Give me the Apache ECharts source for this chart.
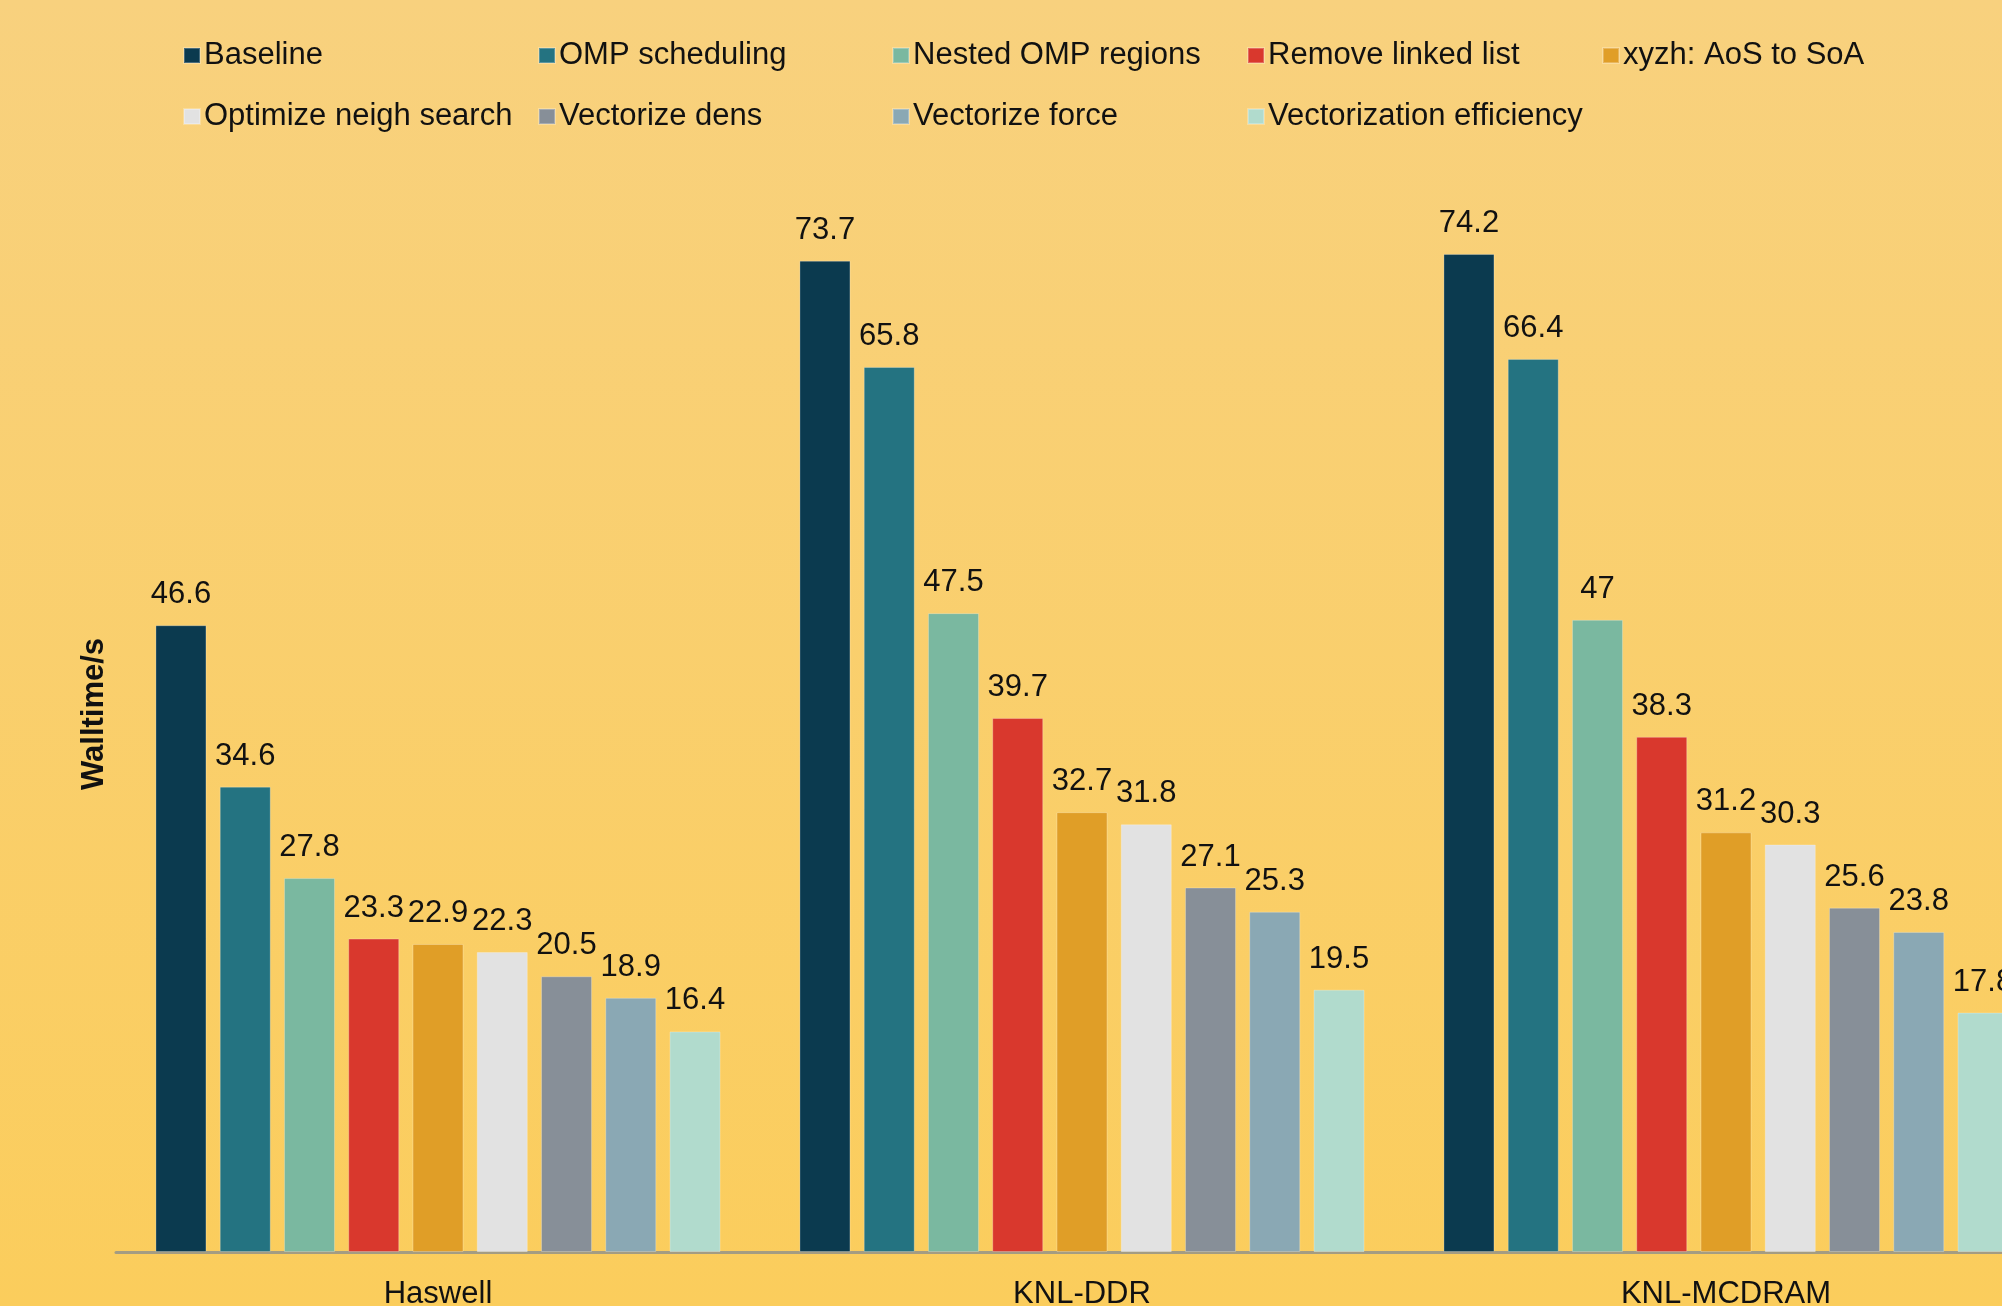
<!DOCTYPE html>
<html>
<head>
<meta charset="utf-8">
<title>Walltime</title>
<script src="https://cdn.jsdelivr.net/npm/echarts@6/dist/echarts.min.js"></script>
<style>
  html, body { margin: 0; padding: 0; }
  #chart { width: 2002px; height: 1306px; }
</style>
</head>
<body>
<div id="chart"></div>
<script>
// categories and series
const categories = ['Haswell', 'KNL-DDR', 'KNL-MCDRAM']
const seriesNames = [
  'Baseline', 'OMP scheduling', 'Nested OMP regions', 'Remove linked list', 'xyzh: AoS to SoA',
  'Optimize neigh search', 'Vectorize dens', 'Vectorize force', 'Vectorization efficiency'
]
const baseline = [46.6, 73.7, 74.2]
const ompScheduling = [34.6, 65.8, 66.4]
const nestedOmp = [27.8, 47.5, 47]
const removeLinkedList = [23.3, 39.7, 38.3]
const aosToSoa = [22.9, 32.7, 31.2]
const optimizeNeigh = [22.3, 31.8, 30.3]
const vectorizeDens = [20.5, 27.1, 25.6]
const vectorizeForce = [18.9, 25.3, 23.8]
const vecEfficiency = [16.4, 19.5, 17.8]

const allData = [baseline, ompScheduling, nestedOmp, removeLinkedList, aosToSoa,
  optimizeNeigh, vectorizeDens, vectorizeForce, vecEfficiency]
const colors = ['#0b3a4f', '#247381', '#7ab8a0', '#d9382d', '#e09e27',
  '#e2e2e2', '#878f98', '#8aa8b4', '#b1dbcd']

const chart = echarts.init(document.getElementById('chart'))

// one legend per item so the columns line up like the original
const legendCols = [183, 538, 892, 1247, 1602]
const legends = seriesNames.map((name, i) => ({
  data: [name],
  left: legendCols[i % 5],
  top: i < 5 ? 40 : 101,
  padding: 0,
  itemWidth: 16,
  itemHeight: 15,
  itemGap: 0,
  icon: 'rect',
  textStyle: { fontSize: 31, color: '#111', fontFamily: 'Liberation Sans', padding: [0, 0, 0, -1] },
  selectedMode: false
}))

const series = seriesNames.map((name, i) => ({
  name: name,
  type: 'bar',
  data: allData[i],
  barWidth: 51,
  barGap: '26%',
  itemStyle: { color: colors[i], borderColor: 'rgba(255,255,255,0.25)', borderWidth: 1 },
  label: {
    show: true,
    position: 'top',
    distance: 15,
    fontSize: 31,
    color: '#111',
    fontFamily: 'Liberation Sans'
  },
  animation: false
}))

const options = {
  backgroundColor: new echarts.graphic.LinearGradient(0, 0, 0, 1, [
    { offset: 0, color: '#f8d17e' },
    { offset: 1, color: '#fbcd5c' }
  ]),
  color: colors,
  legend: legends,
  grid: {
    left: 116,
    width: 1932,
    top: 176,
    bottom: 54,
    outerBoundsMode: 'none',
    containLabel: false
  },
  xAxis: {
    type: 'category',
    data: categories,
    axisLine: { lineStyle: { color: '#a49c82', width: 3 } },
    axisTick: { show: false },
    axisLabel: { fontSize: 31, color: '#111', margin: 27, fontFamily: 'Liberation Sans' }
  },
  yAxis: {
    type: 'value',
    min: 0,
    max: 80,
    name: 'Walltime/s',
    nameLocation: 'middle',
    nameRotate: 90,
    nameGap: 6,
    nameTextStyle: { fontSize: 31, fontWeight: 'bold', color: '#111', fontFamily: 'Liberation Sans' },
    axisLine: { show: false },
    axisTick: { show: false },
    axisLabel: { show: false },
    splitLine: { show: false }
  },
  series
}

chart.setOption(options)
</script>
</body>
</html>
